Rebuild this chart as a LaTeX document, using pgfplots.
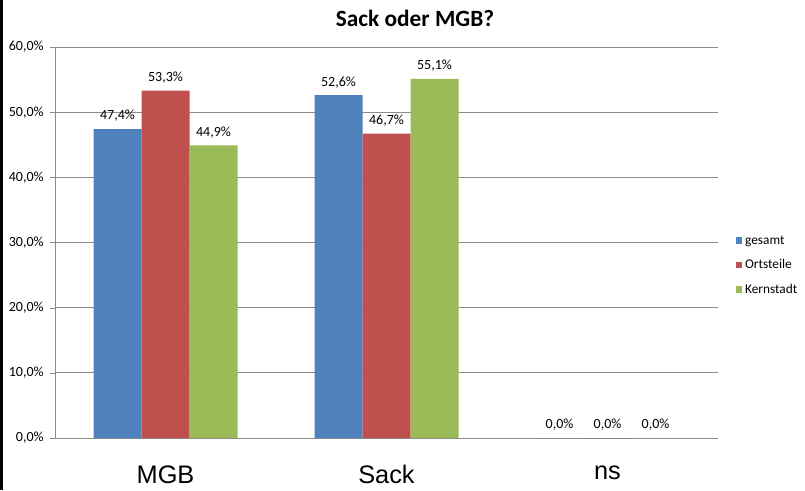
\documentclass[border=0pt]{standalone}
\usepackage{fontspec}
\setmainfont{Carlito}
\newfontfamily\arialfont{Liberation Sans}
\usepackage{pgfplots}
\pgfplotsset{compat=1.18}
\definecolor{XBlue}{HTML}{4F81BD}
\definecolor{XRed}{HTML}{C0504D}
\definecolor{XGreen}{HTML}{9BBB59}
\definecolor{XGrid}{HTML}{8C8C8C}

\begin{document}
\begin{tikzpicture}
  \useasboundingbox (0,0) rectangle (603.75pt,367.5pt);
  \fill[black] (0,0) rectangle (2pt,367.5pt);
  \begin{axis}[
    at={(41.25pt,39pt)}, anchor=south west,
    scale only axis,
    width=497.25pt, height=293.25pt,
    ybar=0pt, bar width=36pt,
    xmin=0, xmax=3, ymin=0, ymax=60,
    axis x line=bottom, axis y line=left,
    axis line style={XGrid, -},
    xtick={0.5,1.5,2.5},
    xticklabels={MGB,Sack,ns},
    xticklabel style={font=\arialfont\fontsize{19}{19}\selectfont, yshift=-13pt},
    major x tick style={draw=none},
    extra x ticks={0,1,2,3},
    extra x tick labels={},
    extra x tick style={tick align=outside, major tick length=5pt,
                        tick style={XGrid}},
    ytick={0,10,...,60},
    tick align=outside, major tick length=4pt,
    y tick style={XGrid},
    ymajorgrids, grid style={XGrid, line width=0.6pt},
    yticklabel={\pgfmathprintnumber[fixed, fixed zerofill, precision=1, use comma, assume math mode=true]{\tick}\%},
    yticklabel style={font=\fontsize{10.5}{12}\selectfont, xshift=-1pt},
    nodes near coords={\pgfmathprintnumber[fixed, fixed zerofill, precision=1, use comma, assume math mode=true]{\pgfplotspointmeta}\%},
    nodes near coords style={font=\fontsize{10.5}{12}\selectfont, yshift=2pt},
    legend style={draw=none, fill=none, at={(1.02,0.532)}, anchor=north west,
                  font=\fontsize{10}{12}\selectfont, row sep=6pt,
                  cells={anchor=west}},
    legend image code/.code={\fill[#1] (0pt,-2.6pt) rectangle (5.2pt,2.6pt);},
  ]
  \addplot[fill=XBlue, draw=none] coordinates {(0.5,47.4) (1.5,52.6) (2.5,0)};
  \addplot[fill=XRed, draw=none] coordinates {(0.5,53.3) (1.5,46.7) (2.5,0)};
  \addplot[fill=XGreen, draw=none] coordinates {(0.5,44.9) (1.5,55.1) (2.5,0)};
  \legend{gesamt,Ortsteile,Kernstadt}
  \end{axis}
  \node[font=\bfseries\fontsize{17.5}{20}\selectfont] at (311.25pt,354pt) {Sack oder MGB?};
\end{tikzpicture}
\end{document}
